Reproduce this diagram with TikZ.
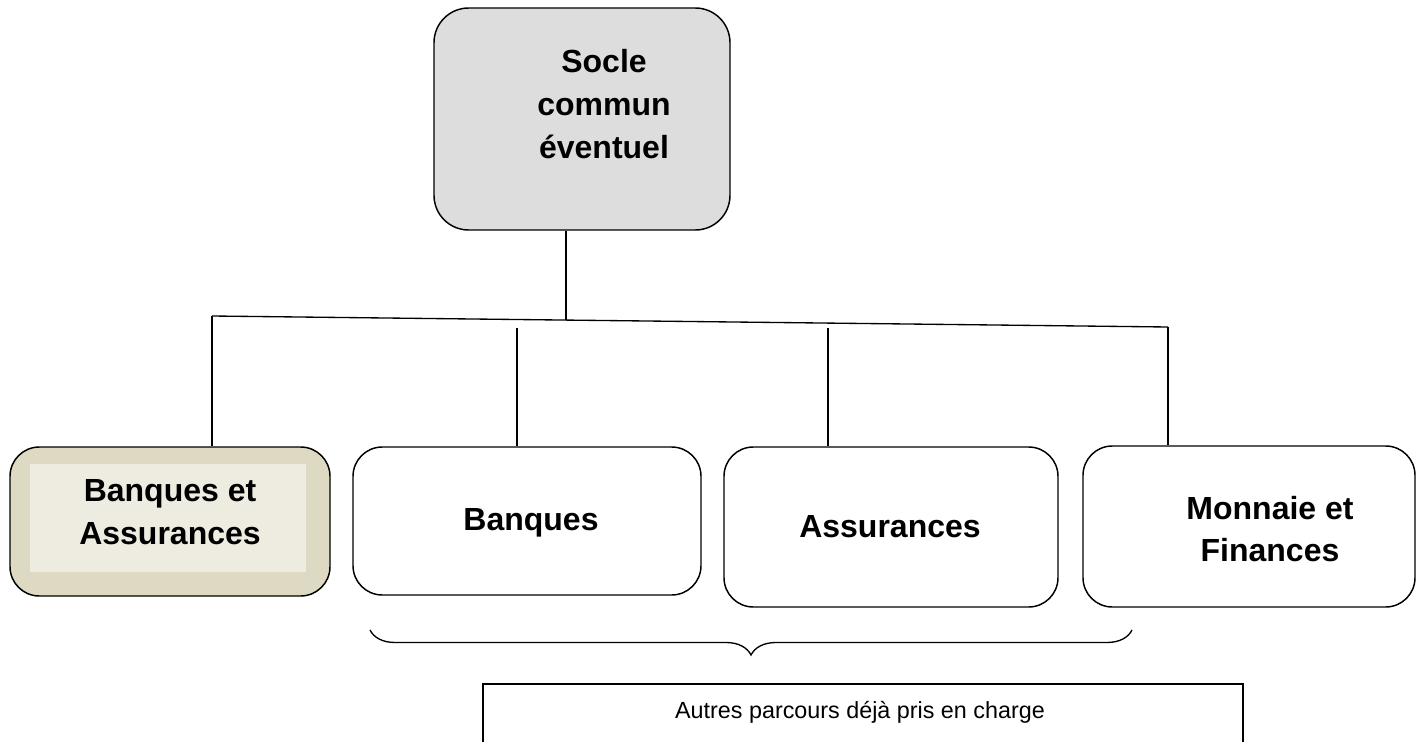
\documentclass[tikz,border=0pt]{standalone}
\usepackage{fontspec}
\setmainfont{Liberation Sans}
\usetikzlibrary{positioning,decorations.pathreplacing}
\definecolor{soclegray}{RGB}{221,221,221}
\definecolor{tanout}{RGB}{221,217,195}
\definecolor{tanin}{RGB}{238,236,225}

\begin{document}
\begin{tikzpicture}
	[x=0.75pt, y=-0.75pt,
	 rbox/.style={draw=black, line width=1.1pt, rectangle, rounded corners=22pt, inner sep=0pt},
	 lbl/.style={font=\fontsize{24}{32}\selectfont\bfseries, align=center},
	 link/.style={line width=1pt}]
	
	\useasboundingbox (0,0) rectangle (1418,742);
	\clip (0,0) rectangle (1418,742);
	
	\node [rbox, fill=soclegray, rounded corners=26pt, minimum width=222pt, minimum height=166.5pt] (socle) at (582,119) {};
	\node [lbl] (socletext) at (604,104) {Socle\\commun\\éventuel};
	
	\node [rbox, fill=tanout, minimum width=240pt, minimum height=111.75pt] (bna) at (170,521.5) {};
	\node [rectangle, fill=tanin, inner sep=0pt, minimum width=207pt, minimum height=81pt] (bnain) at (168,518) {};
	\node [lbl] (bnatext) at (170,512) {Banques et\\Assurances};
	
	\node [rbox, minimum width=261pt, minimum height=111pt] (banq) at (527,521) {};
	\node [lbl] (banqtext) at (531,523) {Banques};
	
	\node [rbox, minimum width=250.5pt, minimum height=120pt] (assu) at (891,527) {};
	\node [lbl] (assutext) at (890,527) {Assurances};
	
	\node [rbox, minimum width=249pt, minimum height=120.75pt] (monn) at (1249,526.5) {};
	\node [lbl] (monntext) at (1270,529) {Monnaie et\\Finances};
	
	\node [draw=black, line width=1.1pt, rectangle, inner sep=0pt, minimum width=570pt, minimum height=60pt] (autres) at (863,724) {};
	\node [font=\fontsize{17.5}{20}\selectfont] (autrestext) at (860,712) {Autres parcours déjà pris en charge};
	
	\coordinate (barL) at (212,316);
	\coordinate (barR) at (1168,327);
	\coordinate (barM) at (566,320);
	
	\draw [link] (socle.south -| barM) -- (barM);
	\draw [link] (barL) -- (barR);
	\draw [link] (barL) -- (barL |- bna.north);
	\draw [link] (517,328) -- (517,0 |- banq.north);
	\draw [link] (828,328) -- (828,0 |- assu.north);
	\draw [link] (barR) -- (barR |- monn.north);
	
	\coordinate (brL) at (370,630);
	\coordinate (brR) at (1132,630);
	\draw [link, decorate, decoration={brace, mirror, amplitude=18.75pt}] (brL) -- (brR);
\end{tikzpicture}
\end{document}
